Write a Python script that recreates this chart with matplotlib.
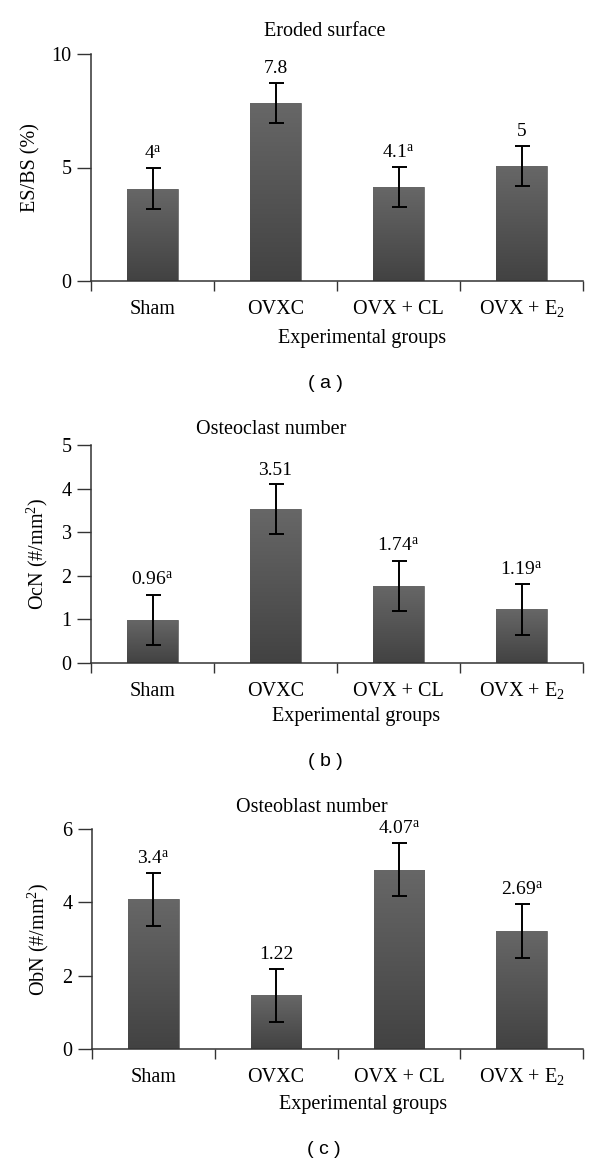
"""
Bone histomorphometry bar charts: eroded surface, osteoclast and osteoblast number.
"""

import numpy as np
import matplotlib
matplotlib.use("Agg")
import matplotlib.pyplot as plt
from matplotlib.colors import LinearSegmentedColormap

plt.rcParams["font.family"] = ["Liberation Serif", "DejaVu Serif"]
plt.rcParams["mathtext.fontset"] = "custom"
plt.rcParams["mathtext.rm"] = "Liberation Serif"
plt.rcParams["mathtext.it"] = "Liberation Serif:italic"

groups = ["Sham", "OVXC", "OVX + CL", "OVX + E$_2$"]

# (a) eroded surface
es_means = [4.06, 7.84, 4.14, 5.06]
es_err = [0.90, 0.90, 0.88, 0.89]
es_labels = ["4$^{\\mathrm{a}}$", "7.8", "4.1$^{\\mathrm{a}}$", "5"]

# (b) osteoclast number
ocn_means = [0.99, 3.53, 1.77, 1.23]
ocn_err = [0.58, 0.57, 0.58, 0.58]
ocn_labels = ["0.96$^{\\mathrm{a}}$", "3.51", "1.74$^{\\mathrm{a}}$", "1.19$^{\\mathrm{a}}$"]

# (c) osteoblast number
obn_means = [4.08, 1.46, 4.89, 3.22]
obn_err = [0.72, 0.72, 0.73, 0.73]
obn_labels = ["3.4$^{\\mathrm{a}}$", "1.22", "4.07$^{\\mathrm{a}}$", "2.69$^{\\mathrm{a}}$"]

W, H = 600, 1166
fig = plt.figure(figsize=(W / 100, H / 100), dpi=100)
bar_cmap = LinearSegmentedColormap.from_list("bar", ["#424242", "#676767"])
AXIS_COLOR = "#333333"


def px_axes(left, right, y_top, y_zero):
    return fig.add_axes([left / W, 1 - y_zero / H, (right - left) / W, (y_zero - y_top) / H])


def draw_panel(ax, means, errs, labels, ymax, yticks, ylabel):
    x = np.arange(len(means)) + 0.5
    bars = ax.bar(x, means, width=0.41, color="#555555", edgecolor="#707070",
                  linewidth=0.6, zorder=2)
    grad = np.linspace(0, 1, 256).reshape(-1, 1)
    for b in bars:
        bx, by = b.get_x(), b.get_y()
        im = ax.imshow(grad, cmap=bar_cmap, origin="lower", aspect="auto",
                       extent=[bx, bx + b.get_width(), by, by + b.get_height()],
                       zorder=2.1)
        im.set_clip_path(b)
    ax.errorbar(x, means, yerr=errs, fmt="none", ecolor="black", elinewidth=1.4,
                capsize=5.4, capthick=1.4, zorder=3)
    for xi, m, e, lab in zip(x, means, errs, labels):
        ax.annotate(lab, (xi, m + e), xytext=(0, 7), textcoords="offset points",
                    ha="center", va="baseline", fontsize=14)

    ax.set_xlim(0, 4)
    ax.set_ylim(0, ymax)
    ax.set_yticks(yticks)
    ax.set_xticks(np.arange(5))
    ax.set_xticklabels([])
    ax.set_xticks(x, minor=True)
    ax.set_xticklabels(groups, minor=True)
    for lbl in ax.get_xticklabels(minor=True):
        lbl.set_va("baseline")
    ax.tick_params(axis="x", which="major", direction="out", length=7, width=1,
                   color=AXIS_COLOR)
    ax.tick_params(axis="x", which="minor", length=0, pad=24, labelsize=14.5)
    ax.tick_params(axis="y", direction="out", length=10, width=1, color=AXIS_COLOR,
                   pad=4, labelsize=14.5)
    for side in ["top", "right"]:
        ax.spines[side].set_visible(False)
    for side in ["left", "bottom"]:
        ax.spines[side].set_color(AXIS_COLOR)
        ax.spines[side].set_linewidth(1.1)
    ax.set_ylabel(ylabel, fontsize=14.5, labelpad=8)


def fig_text(x, y, s, **kw):
    fig.text(x / W, 1 - y / H, s, ha="center", va="center", **kw)


# Panel (a)
ax = px_axes(91, 583, 54, 281)
draw_panel(ax, es_means, es_err, es_labels, 10, [0, 5, 10], "ES/BS (%)")
fig_text(325, 31, "Eroded surface", fontsize=14.5)
fig_text(362, 338, "Experimental groups", fontsize=14.5)
fig_text(325, 383, "( a )", fontsize=14, family="Liberation Sans")

# Panel (b)
ax = px_axes(91, 583, 445, 663)
draw_panel(ax, ocn_means, ocn_err, ocn_labels, 5, [0, 1, 2, 3, 4, 5],
           "OcN (#/mm$^2$)")
fig_text(271, 430, "Osteoclast number", fontsize=14.5)
fig_text(356, 717, "Experimental groups", fontsize=14.5)
fig_text(325, 762, "( b )", fontsize=14, family="Liberation Sans")

# Panel (c)
ax = px_axes(92, 583, 829, 1049)
draw_panel(ax, obn_means, obn_err, obn_labels, 6, [0, 2, 4, 6],
           "ObN (#/mm$^2$)")
fig_text(312, 808, "Osteoblast number", fontsize=14.5)
fig_text(363, 1105, "Experimental groups", fontsize=14.5)
fig_text(324, 1150, "( c )", fontsize=14, family="Liberation Sans")

fig.savefig("out.png", dpi=100)
plt.close(fig)
